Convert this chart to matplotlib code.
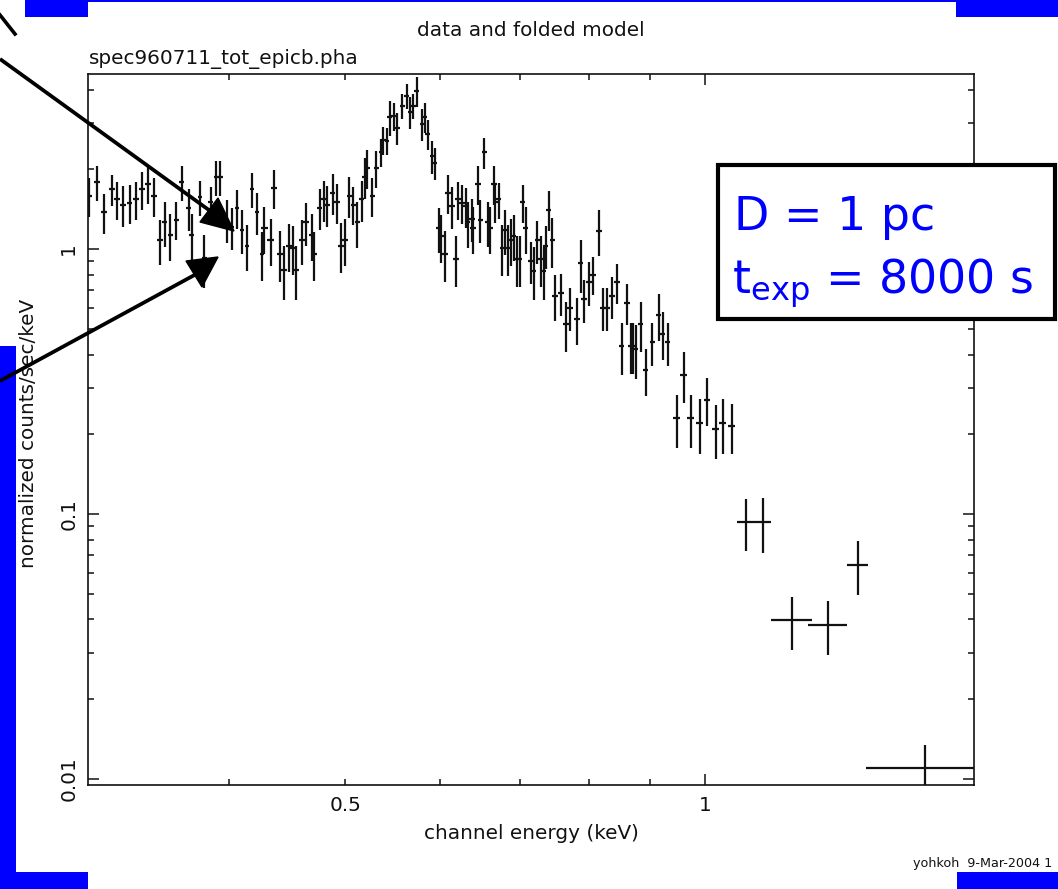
import matplotlib
matplotlib.use("Agg")
import matplotlib.pyplot as plt
from matplotlib import ticker
from matplotlib.patches import Rectangle, Polygon
from matplotlib.lines import Line2D

plt.rcParams['font.family'] = ['DejaVu Sans']

W, H = 1058, 889

# channel energy (keV), bin centres
energy = [0.305, 0.310, 0.314, 0.319, 0.322, 0.326, 0.330, 0.334, 0.338, 0.342,
          0.346, 0.350, 0.353, 0.357, 0.361, 0.365, 0.370, 0.372, 0.378, 0.381,
          0.386, 0.390, 0.393, 0.398, 0.402, 0.406, 0.410, 0.414, 0.418, 0.422,
          0.426,
          0.428, 0.433, 0.436, 0.441, 0.444, 0.449, 0.452, 0.455, 0.460, 0.464,
          0.469, 0.471, 0.476, 0.480, 0.483, 0.488, 0.492, 0.496, 0.500, 0.504,
          0.508, 0.512, 0.516, 0.519, 0.522, 0.527, 0.531, 0.536, 0.538, 0.542,
          0.545, 0.549, 0.553, 0.558, 0.563, 0.567, 0.570, 0.574, 0.580, 0.583,
          0.586, 0.591, 0.594,
          0.599, 0.602, 0.606, 0.610, 0.614, 0.619, 0.622, 0.626, 0.631, 0.633,
          0.638, 0.640, 0.646, 0.649, 0.654, 0.658, 0.661, 0.666, 0.668, 0.672,
          0.677, 0.680, 0.684, 0.688, 0.692, 0.696, 0.700, 0.704, 0.708, 0.715,
          0.719, 0.724, 0.729, 0.733, 0.736, 0.740, 0.745,
          0.749, 0.758, 0.766, 0.771, 0.782, 0.787, 0.792, 0.800, 0.806, 0.815,
          0.822, 0.828, 0.836, 0.844, 0.852, 0.861, 0.867, 0.871, 0.875, 0.884,
          0.892, 0.904, 0.915, 0.922, 0.931,
          0.947, 0.960, 0.973, 0.990, 1.004, 1.021, 1.035, 1.053,
          1.082, 1.118, 1.183, 1.268, 1.343, 1.529]

# bin half widths (keV)
energy_hw = ([0.0018] * 31 + [0.0026] * 43 + [0.0036] * 37 + [0.0045] * 25
             + [0.0065] * 8 + [0.017, 0.019, 0.047, 0.048, 0.027, 0.165])

# normalized counts/sec/keV
counts = [1.59, 1.79, 1.38, 1.68, 1.54, 1.47, 1.49, 1.54, 1.68, 1.76,
          1.59, 1.08, 1.26, 1.13, 1.29, 1.79, 1.43, 1.13, 1.57, 0.925,
          1.50, 1.87, 1.87, 1.29, 1.21, 1.43, 1.18, 1.03, 1.68, 1.38, 0.96,
          1.20, 1.08, 1.70, 0.96, 0.833, 1.03, 1.01, 0.833, 1.08, 1.26,
          1.13, 0.96, 1.43, 1.54, 1.47, 1.63, 1.50, 1.03, 1.08, 1.59,
          1.47, 1.26, 1.54, 1.87, 2.02, 1.59, 2.02, 2.32, 2.58, 2.56,
          3.15, 3.18, 2.86, 3.47, 3.78, 3.29, 3.47, 3.95, 2.96, 3.15,
          2.72, 2.24, 2.11,
          1.20, 1.12, 0.96, 1.63, 1.45, 0.92, 1.54, 1.49, 1.45, 1.26,
          1.30, 1.20, 1.76, 1.29, 2.32, 1.26, 1.20, 1.76, 1.50, 1.54,
          1.01, 1.18, 1.01, 1.08, 1.12, 0.92, 0.92, 1.50, 1.20, 0.90,
          0.83, 1.08, 0.92, 0.83, 1.03, 1.41, 1.08,
          0.665, 0.683, 0.52, 0.60, 0.545, 0.885, 0.647, 0.751, 0.80, 1.17,
          0.60, 0.60, 0.665, 0.751, 0.431, 0.626, 0.431, 0.431, 0.42, 0.52,
          0.35, 0.445, 0.564, 0.48, 0.445,
          0.23, 0.335, 0.23, 0.22, 0.27, 0.21, 0.22, 0.215,
          0.0933, 0.0933, 0.0398, 0.0381, 0.0642, 0.011]

counts_err = [0.27, 0.27, 0.24, 0.23, 0.25, 0.26, 0.25, 0.25, 0.27, 0.28,
              0.27, 0.21, 0.24, 0.23, 0.21, 0.27, 0.26, 0.23, 0.24, 0.21,
              0.21, 0.28, 0.28, 0.24, 0.22, 0.24, 0.22, 0.20, 0.25, 0.25, 0.20,
              0.24, 0.22, 0.28, 0.21, 0.19, 0.21, 0.21, 0.19, 0.21, 0.23,
              0.23, 0.20, 0.25, 0.27, 0.26, 0.29, 0.26, 0.22, 0.22, 0.28,
              0.24, 0.25, 0.27, 0.33, 0.34, 0.27, 0.32, 0.28, 0.31, 0.30,
              0.48, 0.39, 0.39, 0.38, 0.41, 0.46, 0.38, 0.50, 0.41, 0.40,
              0.35, 0.32, 0.29,
              0.23, 0.23, 0.21, 0.27, 0.26, 0.20, 0.25, 0.25, 0.25, 0.25,
              0.24, 0.24, 0.29, 0.24, 0.31, 0.24, 0.24, 0.29, 0.25, 0.24,
              0.22, 0.23, 0.22, 0.22, 0.22, 0.20, 0.20, 0.25, 0.24, 0.16,
              0.19, 0.20, 0.20, 0.19, 0.19, 0.24, 0.23,
              0.13, 0.125, 0.11, 0.11, 0.11, 0.20, 0.12, 0.14, 0.13, 0.23,
              0.11, 0.11, 0.12, 0.13, 0.097, 0.11, 0.094, 0.094, 0.097, 0.11,
              0.071, 0.083, 0.115, 0.10, 0.083,
              0.052, 0.073, 0.052, 0.051, 0.056, 0.049, 0.051, 0.046,
              0.021, 0.022, 0.009, 0.0088, 0.0148, 0.0024]

y_major = [0.01, 0.1, 1.0]
y_major_labels = ["0.01", "0.1", "1"]
x_major = [1.0]
x_minor = [0.4, 0.5, 0.6, 0.7, 0.8, 0.9]


def fx(px):
    return px / W


def fy(py):
    return 1 - py / H


fig = plt.figure(figsize=(W / 100, H / 100), dpi=100)
fig.patch.set_facecolor("white")

ax = fig.add_axes([fx(88), fy(785), (974 - 88) / W, (785 - 74) / H])
ax.set_xscale("log")
ax.set_yscale("log")
ax.errorbar(energy, counts, xerr=energy_hw, yerr=counts_err, fmt="none",
            ecolor="#111111", elinewidth=1.6, capsize=0)
ax.set_xlim(0.3046, 1.68)
ax.set_ylim(0.00949, 4.58)

ax.yaxis.set_major_locator(ticker.FixedLocator(y_major))
ax.yaxis.set_major_formatter(ticker.FixedFormatter(y_major_labels))
ax.yaxis.set_minor_locator(ticker.LogLocator(base=10, subs=range(2, 10)))
ax.yaxis.set_minor_formatter(ticker.NullFormatter())

ax.xaxis.set_major_locator(ticker.FixedLocator(x_major))
ax.xaxis.set_major_formatter(ticker.FixedFormatter(["1"]))
ax.xaxis.set_minor_locator(ticker.FixedLocator(x_minor))
ax.xaxis.set_minor_formatter(
    ticker.FuncFormatter(lambda v, p: "0.5" if abs(v - 0.5) < 1e-6 else ""))

ax.tick_params(which="both", direction="in", top=True, right=True,
               width=1.1, labelsize=14.4, colors="#111111")
ax.tick_params(which="major", length=8)
ax.tick_params(which="minor", length=4)
ax.tick_params(axis="x", which="both", pad=8)
ax.tick_params(axis="y", which="both", pad=7, labelrotation=90)
for lab in ax.get_yticklabels():
    lab.set_va("center")
for sp in ax.spines.values():
    sp.set_linewidth(1.2)
    sp.set_color("#111111")

fig.text(fx(531), fy(35.5), "data and folded model", ha="center",
         va="baseline", fontsize=14.4, color="#111111")
fig.text(fx(88.6), fy(64), "spec960711_tot_epicb.pha", ha="left",
         va="baseline", fontsize=14.4, color="#111111")
fig.text(fx(531), fy(839), "channel energy (keV)", ha="center",
         va="baseline", fontsize=14.4, color="#111111")
fig.text(fx(29), fy(433), "normalized counts/sec/keV", ha="center",
         va="center", rotation=90, fontsize=14.4, color="#111111")
fig.text(fx(913), fy(867), "yohkoh  9-Mar-2004 1", ha="left",
         va="baseline", fontsize=9.2, color="#111111")

# slide decorations
blue = "#0000ff"
for x0, y0, x1, y1 in [(25, 0, 1058, 2), (25, 0, 88, 17), (956, 0, 1058, 17),
                       (0, 346, 16, 889), (0, 872, 88, 889),
                       (957, 872, 1058, 889)]:
    fig.add_artist(Rectangle((fx(x0), fy(y1)), (x1 - x0) / W, (y1 - y0) / H,
                             transform=fig.transFigure, facecolor=blue,
                             edgecolor="none", zorder=5))


def arrow(line, head):
    fig.add_artist(Line2D([fx(p[0]) for p in line], [fy(p[1]) for p in line],
                          lw=2.7, color="black", solid_capstyle="butt",
                          transform=fig.transFigure, zorder=10))
    fig.add_artist(Polygon([(fx(x), fy(y)) for x, y in head], closed=True,
                           facecolor="black", edgecolor="black", lw=1.0,
                           transform=fig.transFigure, zorder=10))


arrow([(0, 59), (213, 213)], [(218, 198), (200, 222), (234, 231)])
arrow([(0, 381), (200, 272)], [(186, 261), (218, 257), (202, 287)])
fig.add_artist(Line2D([fx(0), fx(15)], [fy(15), fy(34)], lw=2.6,
                      color="black", transform=fig.transFigure, zorder=10))

fig.add_artist(Rectangle((fx(718), fy(319)), (1055 - 718) / W, (319 - 165) / H,
                         transform=fig.transFigure, facecolor="white",
                         edgecolor="black", lw=3, zorder=11))
fig.text(fx(734), fy(230), "D = 1 pc", color=blue, fontsize=33,
         va="baseline", ha="left", zorder=12)
fig.text(fx(732), fy(293), r"$\mathregular{t_{exp}}$ = 8000 s", color=blue,
         fontsize=33, va="baseline", ha="left", zorder=12)

fig.savefig("out.png", dpi=100)
